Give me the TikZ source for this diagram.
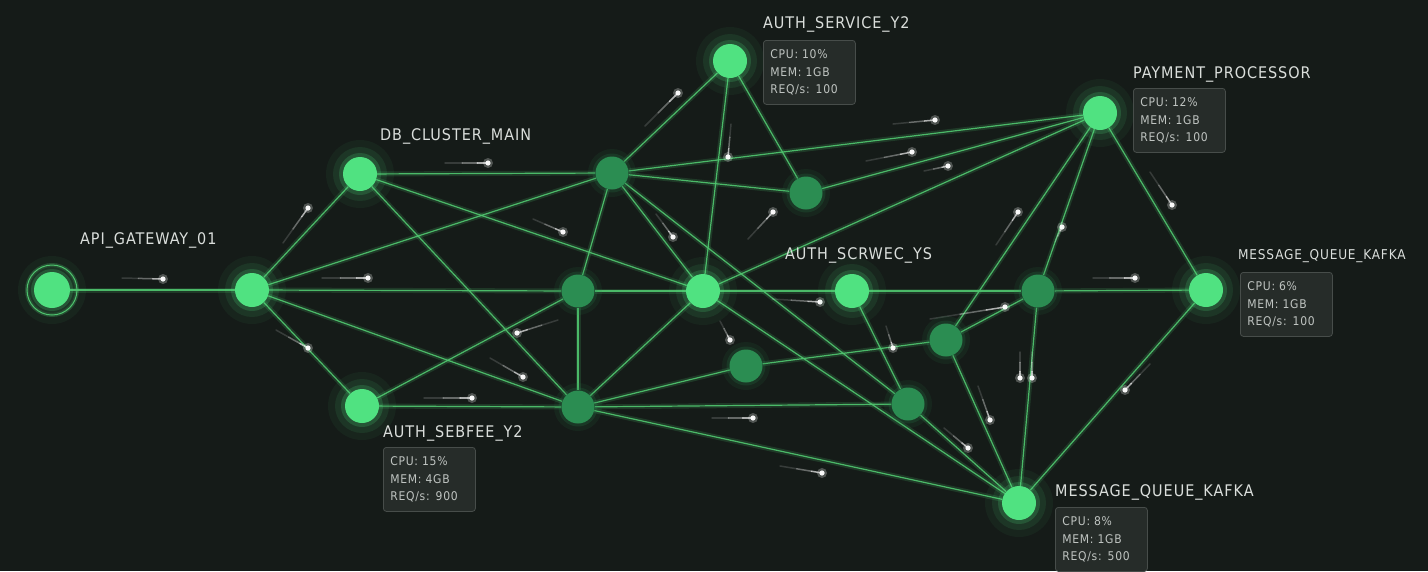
\documentclass[tikz,border=0pt]{standalone}
\usepackage{fontspec}
\newfontfamily\lblfont[LetterSpace=6]{DejaVu Sans Condensed}
\newfontfamily\boxfont[LetterSpace=6]{DejaVu Sans Condensed}
\usetikzlibrary{calc}
\definecolor{bgc}{HTML}{151B18}
\definecolor{brightg}{HTML}{50E281}
\definecolor{darkg}{HTML}{2B8D52}
\definecolor{lineg}{HTML}{4FC46E}
\definecolor{lblc}{HTML}{DADEDB}
\definecolor{boxfill}{HTML}{262C29}
\definecolor{boxdraw}{HTML}{474D4A}
\definecolor{boxtext}{HTML}{BFC4C1}
\pgfdeclarelayer{back}\pgfdeclarelayer{edges}\pgfdeclarelayer{glow}
\pgfsetlayers{back,edges,glow,main}
\newcommand{\mystreak}[2]{%
  \draw[streak, opacity=0.15] (#1) -- ($(#1)!0.4!(#2)$);
  \draw[streak, opacity=0.35] ($(#1)!0.4!(#2)$) -- ($(#1)!0.75!(#2)$);
  \draw[streak, opacity=0.65] ($(#1)!0.75!(#2)$) -- (#2);
  \fill[white, opacity=0.25] (#2) circle (5pt);
  \fill[white, opacity=0.95] (#2) circle (2.6pt);
}
\begin{document}
\begin{tikzpicture}[x=1pt,y=-1pt,
  bnode/.style={circle, fill=brightg, minimum size=34pt, inner sep=0pt},
  dnode/.style={circle, fill=darkg, minimum size=33pt, inner sep=0pt},
  conn/.style={draw=lineg, line width=1.2pt, opacity=0.92,
    preaction={draw=lineg, line width=5pt, opacity=0.18}},
  lbl/.style={text=lblc, font=\lblfont\fontsize{16}{18}\selectfont, inner sep=0pt},
  infobox/.style={draw=boxdraw, fill=boxfill, rounded corners=3pt, line width=0.8pt,
    text width=78pt, inner xsep=7pt, minimum height=64pt, align=left, text=boxtext,
    font=\boxfont\fontsize{12}{17.5}\selectfont},
  streak/.style={white, line width=1.5pt, line cap=round},
  glowb/.style={fill=brightg},
  glowd/.style={fill=darkg}]
\clip (0,0) rectangle (1428,571);
\begin{pgfonlayer}{back}
\fill[bgc] (0,0) rectangle (1428,571);
\end{pgfonlayer}

% nodes
\node[bnode, minimum size=36pt] (G) at (52,290) {};
\node[bnode] (A) at (252,290) {};
\node[bnode] (D) at (360,174) {};
\node[bnode] (S) at (362,406) {};
\node[dnode] (P1) at (612,173) {};
\node[dnode] (P2) at (578,291) {};
\node[dnode] (P3) at (578,407) {};
\node[bnode] (C) at (703,291) {};
\node[bnode] (T) at (730,61) {};
\node[dnode] (Q) at (806,193) {};
\node[dnode] (R) at (746,366) {};
\node[bnode] (Y) at (852,291) {};
\node[dnode] (U) at (946,340) {};
\node[dnode] (V) at (908,404) {};
\node[dnode] (W) at (1038,291) {};
\node[bnode] (PP) at (1100,113) {};
\node[bnode] (MQ) at (1206,290) {};
\node[bnode] (K) at (1019,503) {};

% gateway ring
\draw[lineg, line width=1pt] (G) circle (25pt);
\draw[lineg, line width=4pt, opacity=0.18] (G) circle (25pt);

% glow
\begin{pgfonlayer}{glow}
\foreach \n in {G,A,D,S,T,C,Y,PP,MQ,K}{
  \fill[glowb, opacity=0.05] (\n) circle (34pt);
  \fill[glowb, opacity=0.09] (\n) circle (27pt);
  \fill[glowb, opacity=0.18] (\n) circle (21pt);
}
\foreach \n in {P1,P2,P3,Q,R,U,V,W}{
  \fill[glowd, opacity=0.10] (\n) circle (24pt);
  \fill[glowd, opacity=0.18] (\n) circle (19.5pt);
}
\end{pgfonlayer}

% connectors
\begin{pgfonlayer}{edges}
\foreach \a/\b in {G/A, A/D, A/S, A/P2, A/P1, A/P3, D/P1, D/C, D/P3, S/P2, S/P3,
  P2/P3, P1/P2, P1/C, P1/V, P1/T, P1/Q, P1/PP, T/C, T/Q, Q/PP, C/PP, PP/U, PP/W,
  PP/MQ, W/U, W/K, MQ/K, U/K, U/R, Y/V, V/K, C/K, C/P3, P3/R, P3/V, P3/K,
  P2/C, C/Y, Y/W, W/MQ}{
  \draw[conn] (\a) -- (\b);
}
% streaks
\mystreak{122,278}{163,279}
\mystreak{283,243}{308,208}
\mystreak{445,163}{488,163}
\mystreak{533,219}{563,232}
\mystreak{322,278}{368,278}
\mystreak{276,330}{308,348}
\mystreak{490,358}{523,377}
\mystreak{424,398}{472,398}
\mystreak{558,320}{517,333}
\mystreak{645,126}{678,93}
\mystreak{748,239}{773,212}
\mystreak{731,124}{728,157}
\mystreak{656,214}{673,237}
\mystreak{893,124}{935,120}
\mystreak{866,161}{912,152}
\mystreak{924,171}{948,166}
\mystreak{1150,172}{1172,205}
\mystreak{996,245}{1018,212}
\mystreak{1055,242}{1062,227}
\mystreak{1093,278}{1135,278}
\mystreak{772,299}{820,302}
\mystreak{930,319}{1005,307}
\mystreak{886,326}{893,348}
\mystreak{720,321}{730,340}
\mystreak{712,418}{753,418}
\mystreak{780,466}{822,473}
\mystreak{944,428}{968,448}
\mystreak{978,386}{990,420}
\mystreak{1020,352}{1020,378}
\mystreak{1032,352}{1032,378}
\mystreak{1150,364}{1125,390}
\end{pgfonlayer}

% labels
\node[lbl, anchor=west] (lG) at (80,240) {API\_GATEWAY\_01};
\node[lbl, anchor=west] (lD) at (380,136) {DB\_CLUSTER\_MAIN};
\node[lbl, anchor=west] (lT) at (763,24) {AUTH\_SERVICE\_Y2};
\node[lbl, anchor=west] (lPP) at (1133,74) {PAYMENT\_PROCESSOR};
\node[lbl, anchor=west] (lY) at (785,255) {AUTH\_SCRWEC\_YS};
\node[lbl, anchor=west, font=\lblfont\fontsize{13.5}{16}\selectfont] (lMQ) at (1238,256) {MESSAGE\_QUEUE\_KAFKA};
\node[lbl, anchor=west] (lS) at (383,433) {AUTH\_SEBFEE\_Y2};
\node[lbl, anchor=west] (lK) at (1055,492) {MESSAGE\_QUEUE\_KAFKA};

% info boxes
\node[infobox, anchor=north west] (bT) at (763,40) {CPU: 10\%\\MEM: 1GB\\REQ/s: 100};
\node[infobox, anchor=north west] (bPP) at (1133,88) {CPU: 12\%\\MEM: 1GB\\REQ/s: 100};
\node[infobox, anchor=north west] (bMQ) at (1240,272) {CPU: 6\%\\MEM: 1GB\\REQ/s: 100};
\node[infobox, anchor=north west] (bS) at (383,447) {CPU: 15\%\\MEM: 4GB\\REQ/s: 900};
\node[infobox, anchor=north west] (bK) at (1055,507) {CPU: 8\%\\MEM: 1GB\\REQ/s: 500};
\end{tikzpicture}
\end{document}
